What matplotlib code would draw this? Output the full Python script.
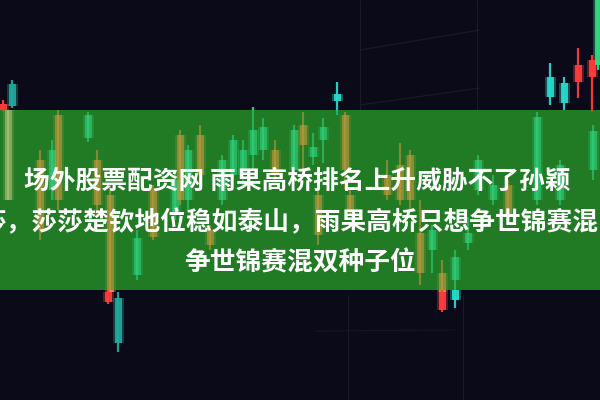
import matplotlib
matplotlib.use("Agg")
import matplotlib.pyplot as plt

# candles (pixel coords, y grows downward)
cx = [3, 12, 8, 40, 52, 58, 88, 97, 110, 108, 118, 137, 153, 175, 180, 188, 200,
      210, 222, 233, 243, 253, 263, 275, 294, 303, 313, 318, 323, 337, 345, 350,
      387, 400, 410, 420, 432, 442, 442, 455, 455, 468, 478, 493, 508, 537, 550,
      564, 578, 592, 598, 593, 560]
body_top = [104, 84, 110, 160, 150, 115, 115, 160, 195, 292, 298, 238, 190, 180, 135, 150, 135,
            230, 160, 140, 150, 130, 127, 150, 130, 125, 147, 195, 127, 94, 115, 195,
            175, 165, 155, 233, 230, 273, 292, 257, 290, 233, 160, 185, 185, 117, 77,
            83, 65, 60, 0, 131, 165]
body_bot = [110, 106, 200, 230, 190, 200, 138, 205, 292, 302, 343, 275, 237, 215, 200, 200, 175,
            245, 200, 175, 175, 155, 150, 175, 170, 145, 157, 235, 140, 101, 170, 210,
            195, 200, 200, 273, 250, 292, 310, 280, 300, 243, 190, 200, 215, 200, 97,
            103, 82, 77, 65, 170, 200]
wick_top = [100, 80, 110, 150, 140, 110, 112, 150, 185, 290, 292, 230, 185, 170, 130, 145, 125,
            225, 155, 135, 140, 107, 118, 140, 125, 112, 133, 188, 118, 82, 112, 190,
            160, 143, 150, 200, 225, 260, 290, 250, 290, 217, 155, 175, 180, 112, 63,
            77, 48, 55, 0, 125, 160]
wick_bot = [112, 108, 200, 240, 200, 210, 142, 215, 292, 304, 352, 280, 240, 220, 205, 210, 185,
            250, 205, 180, 185, 170, 160, 180, 175, 170, 165, 245, 163, 115, 190, 215,
            200, 205, 210, 285, 273, 292, 312, 290, 308, 250, 195, 205, 220, 205, 105,
            110, 98, 112, 70, 180, 205]
ckind = ["red", "teal", "pale", "orange", "green", "orange", "green", "orange", "orange", "red",
         "teal", "green", "orange", "green", "orange", "green", "orange", "orange", "green",
         "green", "green", "green", "green", "orange", "green", "orange", "green", "orange",
         "green", "cyan", "orange", "orange", "orange", "orange", "orange", "orange", "green",
         "orange", "red", "green", "cyan", "green", "green", "green", "orange", "green",
         "cyan", "cyan", "red", "red", "green", "green", "green"]

palette = {"red": "#ff3b3b", "teal": "#1fa89b", "pale": "#b9c77c", "orange": "#c99a40",
           "green": "#31d882", "cyan": "#27d9c9"}

# faint background grid
grid_x = [360, 477, 348, 463]
grid_y0 = [0, 0, 295, 295]
grid_y1 = [110, 110, 400, 400]

line1 = "场外股票配资网 雨果高桥排名上升威胁不了孙颖"
line2 = "莎，莎莎楚钦地位稳如泰山，雨果高桥只想争世锦赛混"
line3 = "争世锦赛混双种子位"

fig = plt.figure(figsize=(6, 4), dpi=100, facecolor="#0a0a18")
ax = fig.add_axes([0, 0, 1, 1])
ax.set_facecolor("#0a0a18")
ax.set_xlim(0, 600)
ax.set_ylim(400, 0)
ax.axis("off")

ax.vlines(grid_x, grid_y0, grid_y1, colors="#1b1b2c", linewidth=0.8, zorder=0)
ax.plot([360, 480], [50, 30], color="#1b1b2c", lw=0.8, zorder=0)
ax.plot([360, 480], [105, 88], color="#1b1b2c", lw=0.8, zorder=0)
ax.plot([315, 455], [331, 330], color="#161624", lw=0.8, zorder=0)

cols = [palette[k] for k in ckind]
heights = [b - t for t, b in zip(body_top, body_bot)]


def draw_candles(alpha, z, clip=None):
    glow = ax.bar(cx, heights, bottom=body_top, width=11, color=cols,
                  alpha=alpha * 0.35, linewidth=0, zorder=z)
    bars = ax.bar(cx, heights, bottom=body_top, width=7, color=cols,
                  alpha=alpha, linewidth=0, zorder=z)
    wicks = ax.vlines(cx, wick_top, wick_bot, colors=cols, linewidth=1.6,
                      alpha=alpha, zorder=z)
    if clip is not None:
        for p in list(glow) + list(bars):
            p.set_clip_path(clip)
        wicks.set_clip_path(clip)


draw_candles(0.95, 1)

band = ax.axhspan(290, 110, color="#217a24", linewidth=0, zorder=2)
draw_candles(0.55, 3, clip=band)

fam = ["Noto Sans CJK SC", "DejaVu Sans"]
kw = dict(color="white", fontsize=18.5, fontweight="bold", family=fam,
          va="center", zorder=5)
ax.text(24, 181, line1, ha="left", **kw)
ax.text(-20, 223, line2, ha="left", **kw)
ax.text(300, 263, line3, ha="center", **kw)

fig.savefig("out.png", dpi=100, facecolor=fig.get_facecolor())
